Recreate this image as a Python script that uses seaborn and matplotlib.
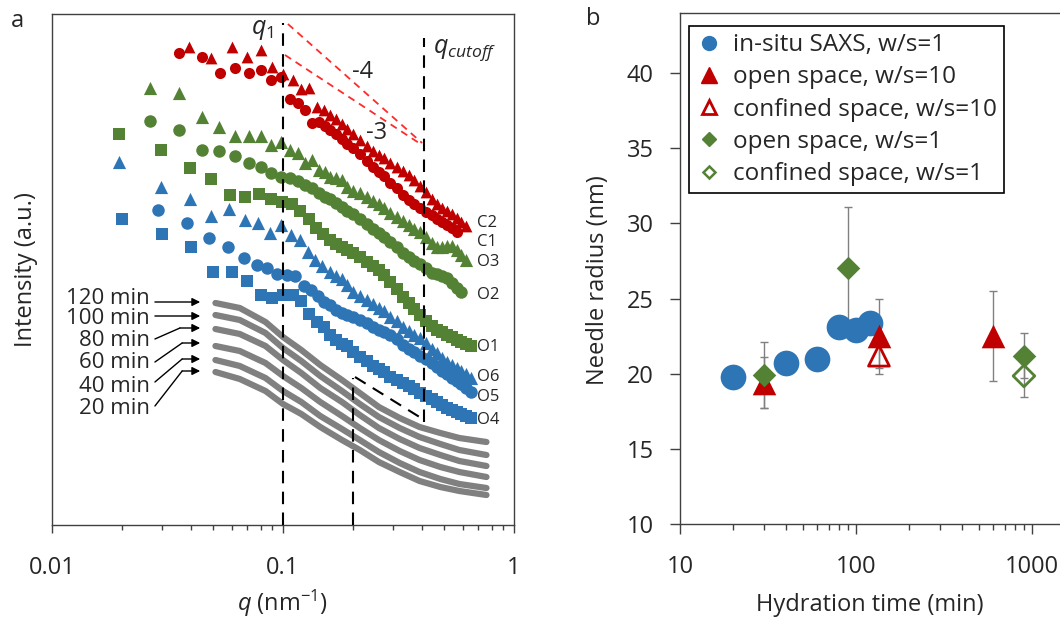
import matplotlib
matplotlib.use("Agg")
import matplotlib.pyplot as plt
from matplotlib.lines import Line2D
from matplotlib.ticker import LogLocator, NullFormatter, FixedLocator, FixedFormatter
import seaborn as sns

sns.set_theme(style="ticks")
plt.rcParams["font.family"] = ["Open Sans", "DejaVu Sans"]
plt.rcParams["mathtext.fontset"] = "custom"
plt.rcParams["mathtext.it"] = "Open Sans:italic"
plt.rcParams["mathtext.rm"] = "Open Sans"

RED = "#C00000"
GREEN = "#548235"
BLUE = "#2E75B6"
GREY = "#808080"
FS = 17

# ---------------- Panel a: SAXS profiles (log10 intensity, offset) ----------------
q_dense = [0.16, 0.17, 0.18, 0.19, 0.20, 0.215, 0.23, 0.245, 0.26, 0.275, 0.29,
           0.31, 0.33, 0.35, 0.37, 0.39, 0.415, 0.44, 0.465, 0.49, 0.515, 0.54,
           0.565, 0.59, 0.62, 0.65]

c2_q = [0.039, 0.049, 0.060, 0.070, 0.080, 0.090, 0.100, 0.110, 0.120, 0.130, 0.140, 0.150]
c2_logI = [4.78, 4.67, 4.78, 4.68, 4.75, 4.58, 4.51, 4.45, 4.36, 4.37, 4.18, 4.15,
           4.10, 4.06, 4.01, 3.96, 3.91, 3.85, 3.79, 3.74, 3.70, 3.67, 3.62, 3.58, 3.54,
           3.50, 3.45, 3.39, 3.33, 3.26, 3.21, 3.17, 3.14, 3.11, 3.07, 3.03, 2.99]

c1_q = [0.0355, 0.0445, 0.0535, 0.062, 0.071, 0.080, 0.089, 0.098, 0.107, 0.116, 0.125,
        0.134, 0.143, 0.152]
c1_logI = [4.72, 4.68, 4.52, 4.57, 4.52, 4.55, 4.45, 4.48, 4.26, 4.22, 4.15, 4.02, 4.03, 3.99,
           3.95, 3.91, 3.86, 3.81, 3.77, 3.71, 3.64, 3.58, 3.53, 3.49, 3.42, 3.37, 3.30,
           3.25, 3.21, 3.17, 3.13, 3.10, 3.06, 3.03, 3.00, 2.97, 2.93]

o3_q = [0.0266, 0.0356, 0.0444, 0.053, 0.062, 0.071, 0.080, 0.089, 0.098, 0.107, 0.116,
        0.125, 0.134, 0.143, 0.152]
o3_logI = [4.37, 4.32, 4.08, 3.98, 3.89, 3.89, 3.89, 3.80, 3.83, 3.75, 3.72, 3.62, 3.65, 3.55, 3.53,
           3.48, 3.47, 3.45, 3.38, 3.34, 3.32, 3.28, 3.24, 3.21, 3.17, 3.12, 3.08, 3.04,
           3.00, 2.96, 2.93, 2.88, 2.82, 2.78, 2.78, 2.79, 2.79, 2.75, 2.70, 2.65]

o2_q = [0.0266, 0.0356, 0.0444, 0.053, 0.062, 0.071, 0.080, 0.089, 0.098, 0.107, 0.116,
        0.125, 0.134, 0.143, 0.152]
o2_logI = [4.04, 3.95, 3.75, 3.74, 3.69, 3.62, 3.58, 3.52, 3.48, 3.47, 3.44, 3.40, 3.37, 3.32, 3.28,
           3.26, 3.22, 3.18, 3.14, 3.11, 3.06, 3.01, 2.96, 2.92, 2.88, 2.83, 2.78, 2.72,
           2.68, 2.64, 2.61, 2.57, 2.52, 2.51, 2.49, 2.47, 2.42, 2.37, 2.33]

o1_q = [0.0195, 0.0295, 0.0395, 0.049, 0.059, 0.0685, 0.079, 0.089, 0.099, 0.109, 0.119,
        0.129, 0.139, 0.149]
o1_logI = [3.91, 3.75, 3.57, 3.46, 3.30, 3.28, 3.31, 3.26, 3.23, 3.21, 3.14, 3.06, 2.97, 2.91,
           2.85, 2.81, 2.78, 2.75, 2.72, 2.68, 2.63, 2.59, 2.55, 2.50, 2.43, 2.36, 2.28,
           2.22, 2.16, 2.10, 2.04, 1.99, 1.95, 1.93, 1.90, 1.88, 1.85, 1.83, 1.81, 1.79]

o6_q = [0.0195, 0.0295, 0.0395, 0.049, 0.0585, 0.0685, 0.078, 0.088, 0.098, 0.108, 0.118,
        0.128, 0.138, 0.148]
o6_logI = [3.63, 3.38, 3.26, 3.09, 3.16, 3.05, 3.02, 2.92, 3.00, 2.90, 2.85, 2.73, 2.65, 2.59,
           2.53, 2.49, 2.46, 2.40, 2.33, 2.29, 2.25, 2.21, 2.17, 2.14, 2.08, 2.04, 1.98,
           1.94, 1.90, 1.87, 1.82, 1.76, 1.72, 1.67, 1.63, 1.60, 1.57, 1.54, 1.51, 1.47]

o5_q = [0.0288, 0.0384, 0.048, 0.0578, 0.0678, 0.0772, 0.0852, 0.094, 0.104, 0.113, 0.123,
        0.132, 0.142, 0.151]
o5_logI = [3.15, 3.02, 2.87, 2.78, 2.67, 2.60, 2.57, 2.51, 2.50, 2.49, 2.39, 2.35, 2.29, 2.23,
           2.20, 2.15, 2.12, 2.10, 2.08, 2.05, 2.02, 1.98, 1.95, 1.93, 1.90, 1.86, 1.80,
           1.76, 1.73, 1.69, 1.66, 1.62, 1.58, 1.54, 1.51, 1.47, 1.44, 1.41, 1.37, 1.33]

o4_q = [0.020, 0.030, 0.040, 0.050, 0.060, 0.070, 0.080, 0.090, 0.100, 0.110, 0.120,
        0.130, 0.140, 0.150]
o4_logI = [3.06, 2.91, 2.78, 2.53, 2.53, 2.44, 2.30, 2.27, 2.30, 2.30, 2.24, 2.11, 2.03, 1.98,
           1.90, 1.85, 1.81, 1.79, 1.73, 1.68, 1.64, 1.59, 1.56, 1.53, 1.48, 1.45, 1.42,
           1.39, 1.36, 1.32, 1.29, 1.26, 1.23, 1.20, 1.17, 1.15, 1.13, 1.11, 1.09, 1.07]

# in-situ SAXS curves (hydration time series)
insitu_q = [0.051, 0.065, 0.084, 0.10, 0.12, 0.145, 0.18, 0.215, 0.26, 0.32, 0.39, 0.48, 0.58, 0.76]
insitu_times = ["120 min", "100 min", "80 min", "60 min", "40 min", "20 min"]
insitu_120 = [2.22, 2.17, 2.03, 1.88, 1.75, 1.60, 1.45, 1.32, 1.18, 1.07, 0.98, 0.92, 0.87, 0.83]
insitu_100 = [2.10, 2.05, 1.92, 1.77, 1.64, 1.49, 1.34, 1.21, 1.08, 0.97, 0.88, 0.81, 0.75, 0.70]
insitu_80 = [1.96, 1.91, 1.79, 1.65, 1.52, 1.37, 1.23, 1.10, 0.97, 0.86, 0.77, 0.70, 0.64, 0.59]
insitu_60 = [1.79, 1.74, 1.62, 1.49, 1.37, 1.23, 1.09, 0.97, 0.85, 0.74, 0.65, 0.58, 0.53, 0.48]
insitu_40 = [1.65, 1.59, 1.47, 1.34, 1.23, 1.09, 0.96, 0.85, 0.73, 0.62, 0.53, 0.46, 0.41, 0.37]
insitu_20 = [1.53, 1.46, 1.34, 1.21, 1.11, 0.98, 0.85, 0.75, 0.63, 0.53, 0.44, 0.38, 0.34, 0.30]

series_labels = ["C2", "C1", "O3", "O2", "O1", "O6", "O5", "O4"]
series_label_logI = [3.02, 2.83, 2.63, 2.30, 1.78, 1.48, 1.28, 1.05]

# ---------------- Panel b: needle radius vs hydration time ----------------
saxs_t = [20, 40, 60, 80, 100, 120]
saxs_r = [19.8, 20.7, 21.0, 23.1, 22.9, 23.4]
open10_t = [30, 135, 600]
open10_r = [19.4, 22.5, 22.5]
open10_err = [1.7, 2.5, 3.0]
conf10_t = [135]
conf10_r = [21.2]
conf10_err = [0.8]
open1_t = [30, 90, 900]
open1_r = [19.9, 27.0, 21.2]
open1_err = [2.2, 4.1, 1.5]
conf1_t = [900]
conf1_r = [19.85]
conf1_err = [1.4]

fig = plt.figure(figsize=(10.6, 6.2), dpi=100)
ax = fig.add_axes([52 / 1060, 95 / 620, 462 / 1060, 511 / 620])
bx = fig.add_axes([680 / 1060, 96 / 620, 380 / 1060, 511 / 620])

# ---- panel a drawing ----
for vals in [insitu_120, insitu_100, insitu_80, insitu_60, insitu_40, insitu_20]:
    sns.lineplot(x=insitu_q, y=vals, color=GREY, lw=4.5, sort=False, estimator=None,
                 ax=ax, zorder=2)
for line in ax.lines:
    line.set_solid_capstyle("round")

profiles = [
    (o4_q, o4_logI, BLUE, "s", 72),
    (o5_q, o5_logI, BLUE, "o", 81),
    (o6_q, o6_logI, BLUE, "^", 90),
    (o1_q, o1_logI, GREEN, "s", 72),
    (o2_q, o2_logI, GREEN, "o", 81),
    (o3_q, o3_logI, GREEN, "^", 90),
    (c1_q, c1_logI, RED, "o", 64),
    (c2_q, c2_logI, RED, "^", 72),
]
for q_lo, logI, col, mk, size in profiles:
    qs = list(q_lo) + q_dense[: len(logI) - len(q_lo)]
    sns.scatterplot(x=qs, y=logI, color=col, marker=mk, s=size, linewidth=0,
                    ax=ax, zorder=3)

dash_k = dict(color="black", lw=1.5, dashes=(6, 4), zorder=4)
ax.plot([0.1, 0.1], [0, 5.02], **dash_k)
ax.plot([0.408, 0.408], [1.03, 4.87], **dash_k)
ax.plot([0.2, 0.2], [0, 1.47], **dash_k)
ax.plot([0.205, 0.39], [1.48, 1.08], **dash_k)
dash_r = dict(color="#FF2A2A", lw=1.3, dashes=(4, 3), zorder=4)
ax.plot([0.105, 0.40], [5.01, 3.82], **dash_r)
ax.plot([0.102, 0.40], [4.70, 3.80], **dash_r)

ax.text(0.222, 4.53, "-4", fontsize=FS, ha="center", va="center")
ax.text(0.255, 3.92, "-3", fontsize=FS, ha="center", va="center")
ax.text(0.081, 4.95, r"$q_\mathit{1}$", fontsize=FS + 1, ha="center", va="center")
ax.text(0.445, 4.75, r"$q_{cutoff}$", fontsize=FS + 1, ha="left", va="center")

for lab, yv in zip(series_labels, series_label_logI):
    ax.text(0.69, yv, lab, fontsize=12, ha="left", va="center")

label_y = [2.27, 2.06, 1.84, 1.62, 1.39, 1.16]
elbow_start = [2.23, 2.09, 1.86, 1.63, 1.43, 1.19]
arrow_y = [2.23, 2.09, 1.97, 1.82, 1.66, 1.54]
elbow_x = [0.0279, 0.0279, 0.0358, 0.0366, 0.0366, 0.0366]
for name, ty, ys, ay, ex in zip(insitu_times, label_y, elbow_start, arrow_y, elbow_x):
    ax.text(0.0265, ty, name, fontsize=16, ha="right", va="center")
    ax.plot([0.0279, ex], [ys, ay], color="black", lw=1)
    ax.annotate("", xy=(0.0438, ay), xytext=(ex, ay),
                arrowprops=dict(arrowstyle="-|>", color="black", lw=1,
                                mutation_scale=12, shrinkA=0, shrinkB=0))

ax.set_xscale("log")
ax.set_xlim(0.01, 1)
ax.set_ylim(0, 5.11)
ax.xaxis.set_major_locator(FixedLocator([0.01, 0.1, 1]))
ax.xaxis.set_major_formatter(FixedFormatter(["0.01", "0.1", "1"]))
ax.xaxis.set_minor_locator(LogLocator(base=10, subs=range(2, 10)))
ax.xaxis.set_minor_formatter(NullFormatter())
ax.set_yticks([])
ax.tick_params(axis="x", which="major", direction="out", length=6, width=1,
               labelsize=FS, pad=16, color="#404040")
ax.tick_params(axis="x", which="minor", direction="out", length=3.5, width=1,
               color="#404040")
for sp in ax.spines.values():
    sp.set_color("#404040")
    sp.set_linewidth(1)
ax.set_xlabel(r"$q$ (nm$^{-1}$)", fontsize=FS)
ax.set_ylabel("Intensity (a.u.)", fontsize=FS)
ax.xaxis.set_label_coords(0.5, -0.122)
ax.yaxis.set_label_coords(-0.03, 0.5)

# ---- panel b drawing ----
err_kw = dict(fmt="none", ecolor=GREY, elinewidth=1, capsize=3, capthick=1, zorder=1)
bx.errorbar(open10_t, open10_r, yerr=open10_err, **err_kw)
bx.errorbar(conf10_t, conf10_r, yerr=conf10_err, **err_kw)
bx.errorbar(open1_t, open1_r, yerr=open1_err, **err_kw)
bx.errorbar(conf1_t, conf1_r, yerr=conf1_err, **err_kw)

sns.scatterplot(x=saxs_t, y=saxs_r, color=BLUE, marker="o", s=18.5 ** 2, linewidth=0,
                ax=bx, zorder=3)
sns.scatterplot(x=conf10_t, y=conf10_r, color=RED, marker="^", s=15 ** 2, ax=bx, zorder=3)
bx.collections[-1].set_facecolor("none")
bx.collections[-1].set_edgecolor(RED)
bx.collections[-1].set_linewidth(2)
sns.scatterplot(x=open10_t, y=open10_r, color=RED, marker="^", s=17 ** 2, linewidth=0,
                ax=bx, zorder=3)
sns.scatterplot(x=conf1_t, y=conf1_r, color=GREEN, marker="D", s=11 ** 2, ax=bx, zorder=3)
bx.collections[-1].set_facecolor("none")
bx.collections[-1].set_edgecolor(GREEN)
bx.collections[-1].set_linewidth(2)
sns.scatterplot(x=open1_t, y=open1_r, color=GREEN, marker="D", s=12 ** 2, linewidth=0,
                ax=bx, zorder=4)

bx.set_xscale("log")
bx.set_xlim(10, 1442)
bx.set_ylim(10, 44)
bx.set_yticks([10, 15, 20, 25, 30, 35, 40])
bx.xaxis.set_major_locator(FixedLocator([10, 100, 1000]))
bx.xaxis.set_major_formatter(FixedFormatter(["10", "100", "1000"]))
bx.xaxis.set_minor_locator(LogLocator(base=10, subs=range(2, 10)))
bx.xaxis.set_minor_formatter(NullFormatter())
bx.tick_params(axis="both", which="major", direction="out", length=7, width=1,
               labelsize=FS, color="#404040")
bx.tick_params(axis="x", which="major", pad=15)
bx.tick_params(axis="y", which="major", pad=12)
bx.tick_params(axis="x", which="minor", direction="out", length=4.5, width=1, color="#404040")
bx.spines["right"].set_visible(False)
for k in ("left", "bottom", "top"):
    bx.spines[k].set_color("#404040")
    bx.spines[k].set_linewidth(1)
bx.set_xlabel("Hydration time (min)", fontsize=FS)
bx.set_ylabel("Needle radius (nm)", fontsize=FS)
bx.xaxis.set_label_coords(0.5, -0.135)
bx.yaxis.set_label_coords(-0.185, 0.477)

handles = [
    Line2D([], [], ls="none", marker="o", color=BLUE, ms=10),
    Line2D([], [], ls="none", marker="^", color=RED, ms=11),
    Line2D([], [], ls="none", marker="^", mfc="none", mec=RED, mew=2, ms=10),
    Line2D([], [], ls="none", marker="D", color=GREEN, ms=7),
    Line2D([], [], ls="none", marker="D", mfc="none", mec=GREEN, mew=1.8, ms=6.5),
]
labels = ["in-situ SAXS, w/s=1", "open space, w/s=10", "confined space, w/s=10",
          "open space, w/s=1", "confined space, w/s=1"]
leg = bx.legend(handles, labels, loc="upper left", bbox_to_anchor=(0.024, 0.975),
                borderaxespad=0, fontsize=17.5, frameon=True, fancybox=False,
                edgecolor="black", framealpha=1, handlelength=1.0, handletextpad=0.5,
                labelspacing=0.34, borderpad=0.3)
leg.get_frame().set_linewidth(1.2)

fig.text(17 / 1060, 1 - 21 / 620, "a", fontsize=FS, ha="center", va="center")
fig.text(593 / 1060, 1 - 19 / 620, "b", fontsize=FS, ha="center", va="center")

fig.savefig("out.png", dpi=100)
